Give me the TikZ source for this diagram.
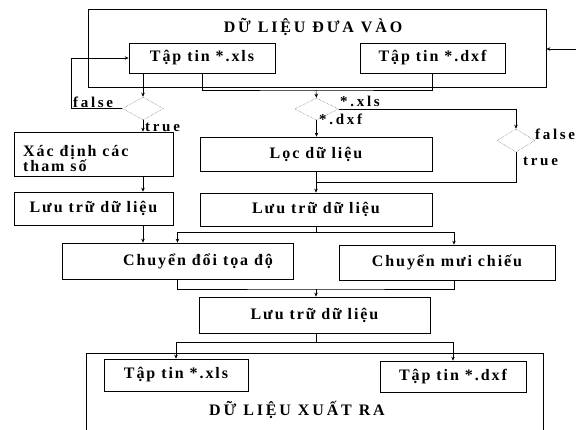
\documentclass[tikz,border=0pt]{standalone}
\usepackage{fontspec}
\setmainfont[LetterSpace=12]{Liberation Serif}
\newfontfamily\lblfont[LetterSpace=18]{Liberation Serif}
\newfontfamily\ttlfont[LetterSpace=18]{Liberation Serif}
\usetikzlibrary{shapes.geometric,arrows.meta}
\begin{document}
\begin{tikzpicture}[x=1pt,y=-1pt,
  txt/.style={font=\fontsize{16}{15}\selectfont\bfseries},
  box/.style={draw, line width=0.7pt, inner sep=0pt, txt},
  dec/.style={draw, diamond, densely dotted, line width=0.5pt, black!60, inner sep=0pt, aspect=1.8},
  ln/.style={line width=0.6pt},
  arr/.style={ln, -{Stealth[length=4pt,width=3.5pt]}},
  lbl/.style={font=\lblfont\fontsize{15}{15}\selectfont\bfseries, inner sep=0pt},
  ttl/.style={font=\ttlfont\fontsize{16}{16}\selectfont\bfseries, inner sep=0pt}
]
\useasboundingbox (0,0) rectangle (576,429);
\clip (0,0) rectangle (576,429);
% input area
\node[box, minimum width=458, minimum height=78] (inbox) at (317,48) {};
\node[ttl] (intitle) at (313,27) {DỮ LIỆU ĐƯA VÀO};
\node[box, minimum width=146, minimum height=30] (inxls) at (202,58) {Tập tin *.xls};
\node[box, minimum width=145, minimum height=30] (indxf) at (432.5,58) {Tập tin *.dxf};
% decisions
\node[dec, minimum width=41, minimum height=23] (d1) at (143,108.5) {};
\node[dec, minimum width=44, minimum height=22] (d2) at (316.5,109) {};
\node[dec, minimum width=38, minimum height=23] (d3) at (516,140.5) {};
% process boxes
\node[box, minimum width=159, minimum height=44] (xac) at (93.5,154) {};
\node[txt, anchor=west, align=left, inner sep=0pt] (xact) at (23,159) {Xác định các\\tham số};
\node[box, minimum width=159, minimum height=33] (luuL) at (93.5,208.5) {Lưu trữ dữ liệu};
\node[box, minimum width=232, minimum height=34] (loc) at (316,154) {Lọc dữ liệu};
\node[box, minimum width=232, minimum height=33] (luuM) at (316,209.5) {Lưu trữ dữ liệu};
\node[box, minimum width=231, minimum height=36] (ch1) at (177.5,261) {};
\node[txt, inner sep=0pt] (ch1t) at (198,261) {Chuyển đổi tọa độ};
\node[box, minimum width=216, minimum height=35] (ch2) at (447,262.5) {Chuyển mưi chiếu};
\node[box, minimum width=231, minimum height=36] (luuB) at (314.5,315) {Lưu trữ dữ liệu};
% output area
\node[box, minimum width=457, minimum height=140, anchor=north] (outbox) at (314.5,353) {};
\node[box, minimum width=144, minimum height=32] (outxls) at (176,375) {Tập tin *.xls};
\node[box, minimum width=146, minimum height=31] (outdxf) at (453,376.5) {Tập tin *.dxf};
\node[ttl] (outtitle) at (297,410) {DỮ LIỆU XUẤT RA};
% helper coordinates
\coordinate (colL) at (143,0);
\coordinate (colR) at (454,0);
\coordinate (fb) at (71,108.5);
\coordinate (j1) at (316,90);
\coordinate (j2) at (316,232);
\coordinate (j3) at (316,182);
\coordinate (j4) at (316,289);
\coordinate (j5) at (316,342);
\coordinate (rin) at (576,49);
% connectors
\draw[arr] (rin) -- (rin -| inbox.east);
\draw[arr] (colL |- inxls.south) -- (d1.north);
\draw[arr] (d1.west) -- (fb) |- (inxls.west);
\draw[ln] (inxls.south) |- (j1) -| (indxf.south);
\draw[arr] (j1) -- (d2.north);
\draw[arr] (d1.south) -- (d1.south |- xac.north);
\draw[arr] (colL |- xac.south) -- (colL |- luuL.north);
\draw[arr] (colL |- luuL.south) -- (colL |- ch1.north);
\draw[arr] (d2.south) -- (d2.south |- loc.north);
\draw[arr] (d2.east) -| (d3.north);
\draw[ln] (d3.south) |- (j3);
\draw[arr] (loc.south) -- (luuM.north);
\draw[ln] (luuM.south) -- (j2);
\draw[arr] (j2) -| (ch1.north);
\draw[arr] (j2) -| (colR |- ch2.north);
\draw[ln] (ch1.south) |- (j4) -| (colR |- ch2.south);
\draw[arr] (j4) -- (j4 |- luuB.north);
\draw[ln] (j4 |- luuB.south) -- (j5);
\draw[arr] (j5) -| (outxls.north);
\draw[arr] (j5) -| (outdxf.north);
% labels
\node[lbl, anchor=south west] (lf1) at (73,108) {false};
\node[lbl, anchor=west] (lt1) at (145,127) {true};
\node[lbl, anchor=south west] (lx2) at (340,107) {*.xls};
\node[lbl, anchor=west] (ld2) at (319,119) {*.dxf};
\node[lbl, anchor=west] (lf3) at (535,134) {false};
\node[lbl, anchor=west] (lt3) at (523,161) {true};
\end{tikzpicture}
\end{document}
